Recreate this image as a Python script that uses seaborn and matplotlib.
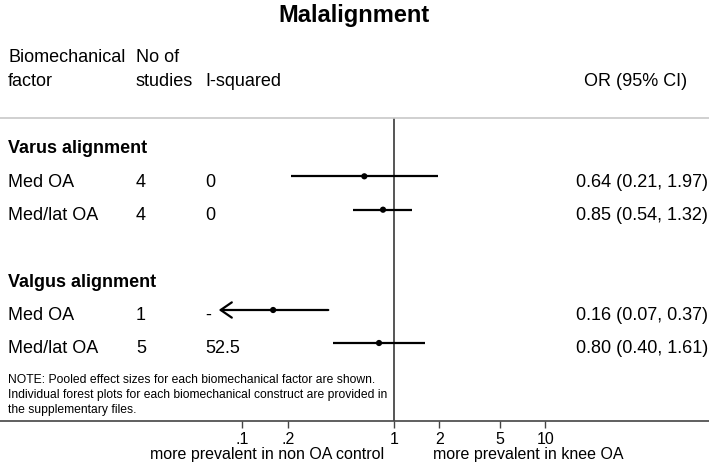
import matplotlib
matplotlib.use("Agg")
import matplotlib.pyplot as plt
import seaborn as sns
import pandas as pd

# ---- data ----
groups = ["Varus alignment", "Valgus alignment"]
factors = ["Med OA", "Med/lat OA", "Med OA", "Med/lat OA"]
group_of = ["Varus alignment", "Varus alignment", "Valgus alignment", "Valgus alignment"]
n_studies = ["4", "4", "1", "5"]
i_squared = ["0", "0", "-", "52.5"]
or_est = [0.64, 0.85, 0.16, 0.80]
or_low = [0.21, 0.54, 0.07, 0.40]
or_high = [1.97, 1.32, 0.37, 1.61]
truncated_low = [False, False, True, False]
tick_vals = [0.1, 0.2, 1, 2, 5, 10]
tick_labels = [".1", ".2", "1", "2", "5", "10"]

# ---- layout (pixel rows) ----
W, H = 709, 465
row_y = [176.3, 209.7, 310.0, 343.0]
group_y = [146.7, 280.7]

sns.set_theme(style="white")
plt.rcParams["font.family"] = ["Liberation Sans", "DejaVu Sans"]
plt.rcParams["text.color"] = "black"
plt.rcParams["xtick.color"] = "black"

fig = plt.figure(figsize=(W / 100, H / 100), dpi=100)
ax_top, ax_bot = 118.3, 421.3
ax = fig.add_axes([0, 1 - ax_bot / H, 1, (ax_bot - ax_top) / H])
ax.set_xscale("log")
ax.set_xlim(10 ** (-393.7 / 151.5), 10 ** ((W - 393.7) / 151.5))
ax.set_ylim(ax_bot, ax_top)

df = pd.DataFrame({"factor": factors, "group": group_of, "est": or_est,
                   "low": or_low, "high": or_high, "y": row_y,
                   "trunc": truncated_low})

# CI lines
for _, r in df.iterrows():
    if r["trunc"]:
        ax.annotate("", xy=(r["low"], r["y"]), xytext=(r["high"], r["y"]),
                    arrowprops=dict(arrowstyle="->,head_length=0.8,head_width=0.55",
                                    color="black", lw=1.6, shrinkA=0, shrinkB=0,
                                    mutation_scale=10))
    else:
        ax.hlines(r["y"], r["low"], r["high"], color="black", lw=1.6)
sns.scatterplot(data=df, x="est", y="y", ax=ax, color="black", s=20,
                edgecolor="none", zorder=5, legend=False)
ax.axvline(1, color="#555555", lw=1.4, zorder=1)

ax.set_xlabel("")
ax.set_ylabel("")
ax.set_yticks([])
ax.minorticks_off()
ax.set_xticks(tick_vals)
ax.set_xticklabels(tick_labels, fontsize=11.5, color="black")
ax.tick_params(axis="x", which="major", direction="out", length=5, width=1,
               color="#444444", pad=3, bottom=True)
ax.tick_params(axis="x", which="minor", bottom=False)
for s in ["left", "right"]:
    ax.spines[s].set_visible(False)
ax.spines["top"].set_color("#c8c8c8")
ax.spines["top"].set_linewidth(1.2)
ax.spines["bottom"].set_color("#444444")
ax.spines["bottom"].set_linewidth(1.2)


def ftext(x, y, s, **kw):
    fig.text(x / W, 1 - y / H, s, color="black", **kw)


FS = 13
# title
ftext(354.5, 22, "Malalignment", fontsize=17, fontweight="bold", ha="center", va="baseline")
# headers
ftext(8, 61.5, "Biomechanical", fontsize=FS, va="baseline")
ftext(8, 86, "factor", fontsize=FS, va="baseline")
ftext(136, 61.5, "No of", fontsize=FS, va="baseline")
ftext(136, 86, "studies", fontsize=FS, va="baseline")
ftext(205, 86, "I-squared", fontsize=FS, va="baseline")
ftext(584, 86, "OR (95% CI)", fontsize=FS, va="baseline")

for g, gy in zip(groups, group_y):
    ftext(8, gy + 6.5, g, fontsize=FS, fontweight="bold", va="baseline")
for i in range(len(factors)):
    by = row_y[i] + 3.7 + 6.5
    ftext(8, by, factors[i], fontsize=FS, va="baseline")
    ftext(136, by, n_studies[i], fontsize=FS, va="baseline")
    ftext(205, by, i_squared[i], fontsize=FS, va="baseline")
    ftext(576, by, f"{or_est[i]:.2f} ({or_low[i]:.2f}, {or_high[i]:.2f})",
          fontsize=FS, va="baseline")

note = ["NOTE: Pooled effect sizes for each biomechanical factor are shown.",
        "Individual forest plots for each biomechanical construct are provided in",
        "the supplementary files."]
for k, line in enumerate(note):
    ftext(8, 383 + 15 * k, line, fontsize=8.7, va="baseline")

ftext(267, 459, "more prevalent in non OA control", fontsize=11.5, ha="center", va="baseline")
ftext(528.5, 459, "more prevalent in knee OA", fontsize=11.5, ha="center", va="baseline")

fig.savefig("out.png", dpi=100)
